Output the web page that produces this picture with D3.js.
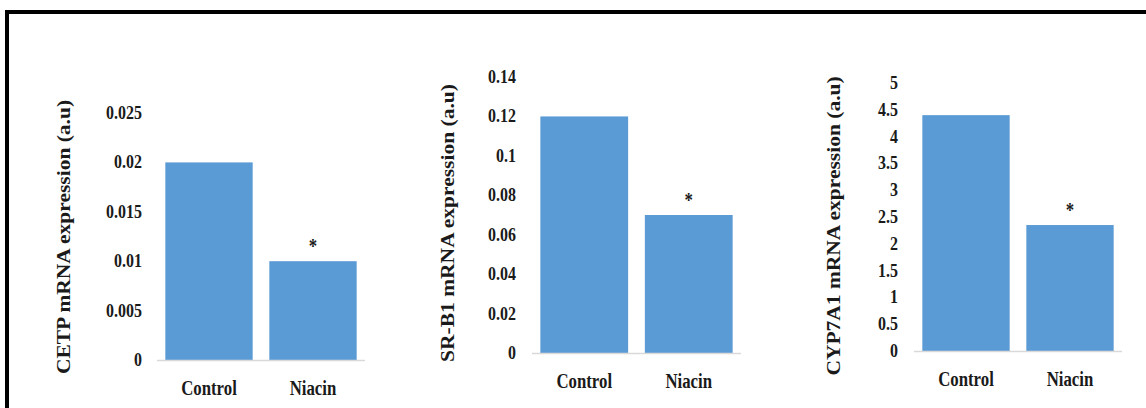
<!DOCTYPE html>
<html>
<head>
<meta charset="utf-8">
<script src="https://cdn.jsdelivr.net/npm/d3@7"></script>
<style>
  body { margin: 0; background: #fff; }
  svg { display: block; }
</style>
</head>
<body>
<svg id="chart" width="1146" height="408"></svg>
<script>
// data
const categories = ['Control', 'Niacin'];
const genes = ['CETP', 'SR-B1', 'CYP7A1'];
const cetpValues = [0.02, 0.01];
const srb1Values = [0.12, 0.07];
const cyp7a1Values = [4.4, 2.35];
const cetpTicks = [0, 0.005, 0.01, 0.015, 0.02, 0.025];
const srb1Ticks = [0, 0.02, 0.04, 0.06, 0.08, 0.1, 0.12, 0.14];
const cyp7a1Ticks = [0, 0.5, 1, 1.5, 2, 2.5, 3, 3.5, 4, 4.5, 5];
const significant = [false, true];

const barColor = '#5b9bd5';
const fontFamily = "'Liberation Serif', 'Times New Roman', serif";
const squeeze = 0.84;

const svg = d3.select('#chart');

// frame (top and left edges only are visible)
svg.append('path')
  .attr('d', 'M7,410 L7,12 L1150,12')
  .style('fill', 'none')
  .style('stroke', '#000')
  .style('stroke-width', 4);

const panels = [
  {gene: genes[0], values: cetpValues, ticks: cetpTicks, x0: 157, x1: 365, y0: 360, y1: 113, tickX: 142, titleX: 63, titleY: 237},
  {gene: genes[1], values: srb1Values, ticks: srb1Ticks, x0: 532, x1: 741, y0: 353, y1: 77, tickX: 516, titleX: 447, titleY: 223},
  {gene: genes[2], values: cyp7a1Values, ticks: cyp7a1Ticks, x0: 914, x1: 1122, y0: 351, y1: 83, tickX: 898, titleX: 833, titleY: 226}
];

function addText(g, transform, str, size, anchor) {
  return g.append('text')
    .attr('transform', transform)
    .attr('text-anchor', anchor)
    .attr('font-family', fontFamily)
    .attr('font-weight', 'bold')
    .attr('font-size', size)
    .attr('fill', '#1a1a1a')
    .text(str);
}

function squeezedText(g, x, y, str, size, anchor) {
  return addText(g, 'translate(' + x + ',' + y + ') scale(' + squeeze + ',1)', str, size, anchor);
}

panels.forEach((p) => {
  const g = svg.append('g').attr('class', 'panel');

  const x = d3.scaleBand()
    .domain(categories)
    .range([p.x0, p.x1])
    .paddingInner(0.16)
    .paddingOuter(0.08);

  const y = d3.scaleLinear()
    .domain([0, d3.max(p.ticks)])
    .range([p.y0, p.y1]);

  // tick labels
  p.ticks.forEach((t) => {
    squeezedText(g, p.tickX, y(t) + 6, String(t), 19, 'end');
  });

  // bars
  g.selectAll('.bar')
    .data(p.values)
    .enter().append('rect')
    .attr('class', 'bar')
    .attr('x', (d, i) => x(categories[i]))
    .attr('y', (d) => y(d))
    .attr('width', x.bandwidth())
    .attr('height', (d) => y(0) - y(d))
    .style('fill', barColor);

  // baseline
  g.append('line')
    .attr('x1', p.x0).attr('x2', p.x1)
    .attr('y1', y(0) + 0.5).attr('y2', y(0) + 0.5)
    .style('stroke', '#d9d9d9')
    .style('stroke-width', 1.5);

  // category labels
  categories.forEach((c) => {
    squeezedText(g, x(c) + x.bandwidth() / 2, p.y0 + 35, c, 20, 'middle');
  });

  // significance stars
  p.values.forEach((v, i) => {
    if (significant[i]) {
      squeezedText(g, x(categories[i]) + x.bandwidth() / 2, y(v) - 8, '*', 20, 'middle');
    }
  });

  // y-axis title
  addText(g, 'translate(' + (p.titleX + 7) + ',' + p.titleY + ') rotate(-90) scale(1,' + squeeze + ')',
    p.gene + ' mRNA expression (a.u)', 21.5, 'middle');
});
</script>
</body>
</html>
